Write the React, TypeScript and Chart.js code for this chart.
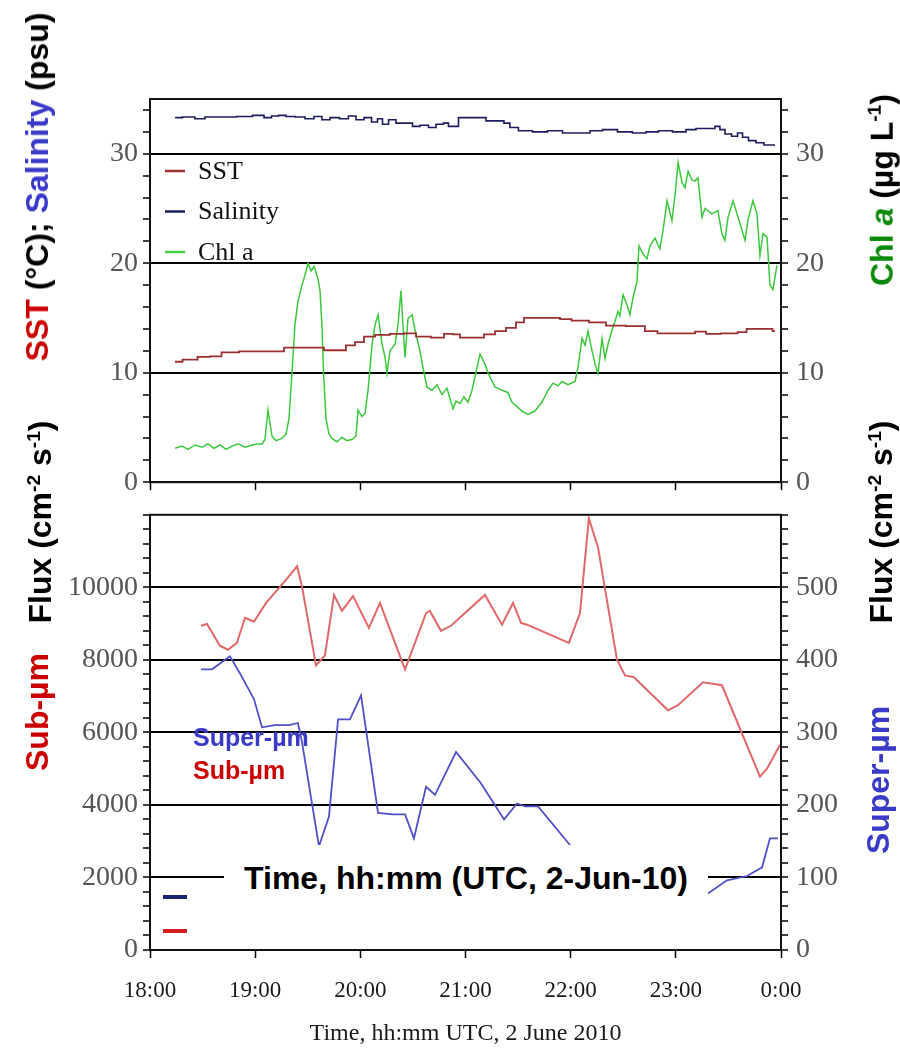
import React, { useEffect, useRef } from 'react';
import { Chart, registerables } from 'chart.js';

Chart.register(...registerables);

// Time is in minutes after 18:00 UTC, 2 June 2010.
const hourLabels = ['18:00', '19:00', '20:00', '21:00', '22:00', '23:00', '0:00'];

// Upper panel: sea-surface salinity (psu)
const salinityTime = [14.3, 22.8, 28.5, 34.2, 44.5, 54.2, 62.8, 67.3, 71.3, 75.3, 79.9, 85.6, 91.3, 95.8, 100.4, 105.0, 111.2, 115.2, 119.8, 124.4, 128.4, 131.2, 134.1, 138.1, 142.6, 148.3, 151.2, 156.9, 160.9, 165.4, 169.4, 171.2, 175.1, 176.9, 182.6, 189.4, 194.0, 199.7, 204.2, 206.5, 213.9, 222.5, 231.1, 239.6, 248.2, 253.9, 262.4, 271.0, 279.5, 286.4, 293.8, 302.4, 309.2, 313.8, 320.6, 324.0, 326.3, 329.8, 333.8, 336.6, 339.5, 343.4, 348.0, 352.6, 356.6];
const salinity = [33.3, 33.35, 33.2, 33.35, 33.35, 33.4, 33.5, 33.3, 33.45, 33.5, 33.4, 33.35, 33.2, 33.4, 33.1, 33.3, 33.2, 33.45, 33.1, 33.3, 32.9, 33.2, 32.7, 33.1, 32.8, 32.8, 32.5, 32.6, 32.4, 32.7, 32.8, 32.5, 32.5, 33.3, 33.3, 33.3, 33.0, 33.0, 32.8, 32.4, 32.1, 32.0, 32.1, 31.9, 31.9, 32.1, 32.2, 32.0, 31.9, 32.0, 32.1, 32.0, 32.2, 32.3, 32.3, 32.5, 32.2, 31.8, 31.6, 31.9, 31.5, 31.2, 31.0, 30.8, 30.8];

// Upper panel: sea-surface temperature (°C)
const sstTime = [14.3, 22.8, 31.4, 37.1, 44.5, 57.1, 74.2, 78.7, 98.1, 100.4, 109.5, 114.1, 119.8, 124.4, 132.4, 141.5, 148.3, 155.2, 165.4, 170.0, 175.7, 178.0, 187.1, 194.0, 199.7, 206.5, 211.1, 215.6, 231.1, 236.8, 244.2, 256.7, 263.6, 279.5, 285.2, 293.8, 308.1, 313.8, 320.6, 330.9, 339.5, 341.2, 353.7, 356.6];
const sst = [11.0, 11.2, 11.45, 11.5, 11.85, 11.95, 11.95, 12.3, 12.3, 12.05, 12.05, 12.5, 12.8, 13.3, 13.45, 13.55, 13.6, 13.3, 13.2, 13.55, 13.5, 13.2, 13.2, 13.5, 13.8, 14.1, 14.6, 15.0, 15.0, 14.9, 14.75, 14.6, 14.3, 14.25, 13.8, 13.6, 13.6, 13.75, 13.55, 13.6, 13.7, 14.0, 14.0, 13.8];

// Upper panel: chlorophyll a (µg/L), right-hand axis
const chlTime = [14.3, 18.3, 21.7, 25.7, 29.7, 33.1, 36.5, 39.9, 43.4, 46.8, 50.2, 54.2, 58.2, 61.6, 63.9, 65.6, 67.3, 69.6, 71.9, 75.3, 77.6, 79.3, 81.0, 82.7, 84.4, 86.7, 88.4, 90.1, 91.9, 93.6, 95.8, 97.0, 98.1, 99.0, 100.4, 102.1, 103.8, 106.7, 109.5, 112.4, 115.2, 117.5, 118.7, 120.9, 122.7, 124.4, 126.7, 128.4, 130.1, 132.4, 134.1, 135.2, 136.9, 139.8, 141.5, 143.2, 144.3, 145.5, 147.2, 149.5, 151.2, 154.0, 155.7, 158.0, 160.9, 163.7, 166.6, 169.4, 171.2, 172.9, 174.6, 176.9, 179.1, 181.4, 183.7, 186.6, 188.3, 191.1, 192.8, 196.8, 200.8, 204.2, 206.5, 209.4, 212.2, 215.6, 219.6, 223.6, 227.1, 229.9, 232.8, 235.0, 238.5, 242.5, 244.2, 246.5, 248.2, 249.9, 252.2, 253.9, 255.6, 257.9, 259.6, 261.3, 263.6, 265.3, 267.0, 268.1, 269.9, 272.1, 273.8, 275.5, 277.8, 279.0, 280.7, 283.5, 285.3, 288.1, 290.9, 292.7, 295.0, 297.8, 299.6, 301.3, 303.5, 305.2, 307.0, 309.2, 310.9, 312.6, 314.9, 316.6, 320.6, 324.0, 326.3, 328.0, 329.8, 332.6, 335.5, 339.5, 341.2, 344.0, 346.3, 348.0, 349.7, 352.0, 353.7, 355.4, 357.7];
const chl = [3.1, 3.3, 3.0, 3.4, 3.2, 3.5, 3.1, 3.4, 3.0, 3.3, 3.5, 3.2, 3.4, 3.5, 3.5, 3.9, 6.6, 4.2, 3.8, 4.0, 4.4, 5.8, 10.0, 14.4, 16.5, 18.0, 18.9, 20.0, 19.3, 19.7, 18.6, 17.5, 14.3, 10.0, 5.8, 4.4, 4.0, 3.7, 4.1, 3.8, 3.9, 4.2, 6.6, 6.0, 6.3, 8.4, 12.6, 14.4, 15.3, 12.6, 11.4, 9.95, 12.0, 12.6, 14.4, 17.5, 14.4, 11.4, 14.95, 15.3, 13.9, 12.0, 10.5, 8.7, 8.4, 8.9, 8.0, 8.6, 7.6, 6.7, 7.4, 7.2, 7.8, 7.3, 8.4, 10.5, 11.7, 10.8, 10.0, 8.7, 8.4, 8.2, 7.3, 6.9, 6.5, 6.2, 6.5, 7.3, 8.4, 9.05, 8.8, 9.2, 8.9, 9.2, 10.5, 13.15, 12.5, 13.8, 12.0, 10.8, 9.95, 13.1, 11.3, 12.6, 13.9, 14.7, 15.6, 15.2, 17.1, 16.2, 15.3, 16.8, 18.3, 21.6, 21.0, 20.4, 21.6, 22.3, 21.3, 23.0, 25.7, 23.9, 26.3, 29.2, 27.4, 26.9, 28.4, 27.6, 27.5, 27.8, 24.2, 25.0, 24.5, 24.8, 22.7, 22.1, 24.2, 25.7, 24.2, 22.1, 24.0, 25.7, 24.5, 20.7, 22.7, 22.4, 18.0, 17.6, 19.8];

// Lower panel: sub-micrometre particle flux (cm-2 s-1), left-hand axis
const subTime = [29.1, 32.5, 39.9, 44.5, 49.6, 54.2, 59.3, 66.2, 77.0, 83.9, 86.7, 94.7, 99.8, 105.0, 109.5, 115.8, 124.9, 131.2, 145.5, 157.5, 159.7, 166.0, 171.7, 191.1, 200.8, 207.1, 211.7, 215.1, 239.0, 245.3, 250.4, 255.6, 266.4, 271.0, 276.1, 295.5, 301.2, 315.5, 326.3, 348.0, 352.0, 359.4];
const subFlux = [8940, 8990, 8390, 8280, 8470, 9160, 9050, 9570, 10170, 10580, 10030, 7850, 8120, 9790, 9350, 9760, 8880, 9570, 7740, 9290, 9350, 8800, 8940, 9790, 8970, 9570, 9020, 8970, 8470, 9290, 11900, 11100, 8010, 7570, 7520, 6610, 6750, 7380, 7300, 4780, 5000, 5650];

// Lower panel: super-micrometre particle flux (cm-2 s-1), right-hand axis
const superTime = [29.1, 35.4, 45.6, 51.9, 59.3, 63.9, 71.3, 79.3, 84.4, 86.7, 96.4, 102.1, 107.3, 114.1, 120.4, 130.1, 138.6, 145.5, 150.6, 157.5, 162.6, 174.6, 188.8, 202.0, 209.4, 213.9, 221.4, 240.2, 280.0, 318.3, 329.2, 340.6, 349.2, 353.7, 358.3];
const superFlux = [387, 387, 405, 379, 346, 307, 310, 310, 313, 287, 143, 184, 318, 318, 351, 189, 187, 187, 154, 225, 214, 273, 230, 180, 202, 198, 198, 143, null, 78, 96, 102, 114, 154, 154];

const keyNames = ['SST', 'Salinity', 'Chl a'];
const keyColors = ['#9a3030', '#1c1c5e', '#4ccc4c'];

const SERIF = '"Liberation Serif", "Times New Roman", serif';
const SANS = '"Liberation Sans", Arial, sans-serif';

const points = (t: number[], v: (number | null)[]) => t.map((x, i) => ({ x, y: v[i] }));
const fixWidth = (w: number) => (scale: any) => { scale.width = w; };
const fixHeight = (h: number) => (scale: any) => { scale.height = h; };

// Box around the plotting area (adds the top edge the axes do not draw)
const framePlugin = {
  id: 'frame',
  afterDraw(chart: any) {
    const { ctx, chartArea: a } = chart;
    ctx.save();
    ctx.strokeStyle = '#111';
    ctx.lineWidth = 2;
    ctx.strokeRect(a.left, a.top, a.right - a.left, a.bottom - a.top);
    ctx.restore();
  },
};

// Series key in the upper-left corner of the upper panel
const keyPlugin = {
  id: 'seriesKey',
  afterDraw(chart: any) {
    const { ctx, chartArea: a } = chart;
    ctx.save();
    ctx.font = `26px ${SERIF}`;
    ctx.textBaseline = 'middle';
    keyNames.forEach((name, i) => {
      const y = a.top + 72 + i * 40.5;
      ctx.strokeStyle = keyColors[i];
      ctx.lineWidth = 2.5;
      ctx.beginPath();
      ctx.moveTo(a.left + 15, y);
      ctx.lineTo(a.left + 35, y);
      ctx.stroke();
      ctx.fillStyle = '#111';
      ctx.fillText(name, a.left + 48, y + 1);
    });
    ctx.restore();
  },
};

// Short key marks in the lower-left corner of the flux panel
const fluxKeyPlugin = {
  id: 'fluxKey',
  afterDraw(chart: any) {
    const { ctx, chartArea: a } = chart;
    ctx.save();
    ctx.lineWidth = 4;
    [['#1a2470', 53], ['#d42020', 19]].forEach(([c, dy]) => {
      ctx.strokeStyle = c as string;
      ctx.beginPath();
      ctx.moveTo(a.left + 13, a.bottom - (dy as number));
      ctx.lineTo(a.left + 37, a.bottom - (dy as number));
      ctx.stroke();
    });
    ctx.restore();
  },
};

const yTickFont = { family: SERIF, size: 28 };
const tickGrid = { tickColor: '#000', tickLength: 7, tickWidth: 1.5 };

function valueAxis(position: 'left' | 'right', max: number, step: number, major: number, width: number, grid: boolean) {
  return {
    type: 'linear',
    position,
    min: 0,
    max,
    afterFit: fixWidth(width),
    ticks: {
      stepSize: step,
      maxTicksLimit: 200,
      includeBounds: false,
      autoSkip: false,
      padding: position === 'left' ? 5 : 8,
      color: '#555',
      font: yTickFont,
      callback: (v: number) => (v % major === 0 && v < max ? String(v) : ''),
    },
    grid: {
      ...tickGrid,
      drawOnChartArea: grid,
      lineWidth: 2,
      color: (c: any) => (c.tick && c.tick.value % major === 0 && c.tick.value > 0 && c.tick.value < max ? '#000' : 'rgba(0,0,0,0)'),
    },
    border: { color: '#111', width: 2 },
  };
}

function timeAxis(height: number, labels: boolean) {
  return {
    type: 'linear',
    min: 0,
    max: 360,
    afterFit: fixHeight(height),
    ticks: {
      stepSize: 60,
      autoSkip: false,
      maxRotation: 0,
      display: labels,
      padding: 19,
      color: '#1a1a1a',
      font: { family: SERIF, size: 23 },
      callback: (v: number) => hourLabels[Math.round(v / 60)],
    },
    grid: { drawOnChartArea: false, tickColor: '#000', tickLength: 8, tickWidth: 1.5 },
    border: { color: '#111', width: 2 },
    title: labels
      ? { display: true, text: 'Time, hh:mm UTC, 2 June 2010', color: '#1a1a1a', font: { family: SERIF, size: 24 }, padding: { top: 0, bottom: 6 } }
      : { display: false },
  };
}

const rotated = (cx: number, cy: number): React.CSSProperties => ({
  position: 'absolute',
  left: cx,
  top: cy,
  transform: 'translate(-50%, -50%) rotate(-90deg)',
  whiteSpace: 'nowrap',
  font: `bold 32px ${SANS}`,
  lineHeight: '36px',
  color: '#000',
});

const sup: React.CSSProperties = { fontSize: '0.6em', verticalAlign: '0.6em' };
const RED = '#cc0000';
const BLUE = '#3a3ac8';
const GREEN = '#0a8a0a';

export default function App() {
  const topRef = useRef<HTMLCanvasElement>(null);
  const botRef = useRef<HTMLCanvasElement>(null);

  useEffect(() => {
    const common = {
      responsive: false,
      animation: false as const,
      events: [],
      plugins: { legend: { display: false }, tooltip: { enabled: false } },
    };

    const top = new Chart(topRef.current!, {
      type: 'line',
      data: {
        datasets: [
          { label: 'Salinity', data: points(salinityTime, salinity), borderColor: keyColors[1], borderWidth: 1.6, pointRadius: 0, stepped: 'middle', yAxisID: 'y' },
          { label: 'SST', data: points(sstTime, sst), borderColor: keyColors[0], borderWidth: 1.8, pointRadius: 0, stepped: 'middle', yAxisID: 'y' },
          { label: 'Chl a', data: points(chlTime, chl), borderColor: '#3cc83c', borderWidth: 1.5, pointRadius: 0, yAxisID: 'y2' },
        ],
      },
      options: {
        ...common,
        layout: { padding: { top: 99, left: 0, right: 0, bottom: 0 } },
        scales: {
          x: timeAxis(18, false),
          y: valueAxis('left', 35, 2, 10, 150, true),
          y2: valueAxis('right', 35, 2, 10, 119, false),
        },
      } as any,
      plugins: [framePlugin, keyPlugin],
    });

    const bottom = new Chart(botRef.current!, {
      type: 'line',
      data: {
        datasets: [
          { label: 'Sub-µm', data: points(subTime, subFlux), borderColor: '#e06868', borderWidth: 2, pointRadius: 0, yAxisID: 'y' },
          { label: 'Super-µm', data: points(superTime, superFlux), borderColor: '#5050c8', borderWidth: 1.8, pointRadius: 0, yAxisID: 'y2', spanGaps: false },
        ],
      },
      options: {
        ...common,
        layout: { padding: { top: 21, left: 0, right: 0, bottom: 0 } },
        scales: {
          x: timeAxis(104, true),
          y: valueAxis('left', 12000, 400, 2000, 150, true),
          y2: valueAxis('right', 600, 20, 100, 119, false),
        },
      } as any,
      plugins: [framePlugin, fluxKeyPlugin],
    });

    return () => {
      top.destroy();
      bottom.destroy();
    };
  }, []);

  const fluxUnit = (
    <>
      Flux (cm<span style={sup}>-2</span> s<span style={sup}>-1</span>)
    </>
  );

  return (
    <div style={{ position: 'absolute', left: 0, top: 0, width: 900, height: 1054, background: '#fff', overflow: 'hidden' }}>
      <canvas ref={topRef} width={900} height={507} style={{ position: 'absolute', left: 0, top: 0 }} />
      <canvas ref={botRef} width={900} height={564} style={{ position: 'absolute', left: 0, top: 490 }} />

      <div style={rotated(37, 187)}>
        <span style={{ color: RED }}>SST</span> (°C); <span style={{ color: BLUE }}>Salinity</span> (psu)
      </div>
      <div style={{ ...rotated(37, 712), color: RED }}>Sub-µm</div>
      <div style={rotated(37, 522)}>{fluxUnit}</div>

      <div style={rotated(878, 190)}>
        <span style={{ color: GREEN }}>Chl <i>a</i></span> (µg L<span style={sup}>-1</span>)
      </div>
      <div style={{ ...rotated(878, 780), color: BLUE }}>Super-µm</div>
      <div style={rotated(878, 522)}>{fluxUnit}</div>

      <div style={{ position: 'absolute', left: 193, top: 722, font: `bold 25px ${SANS}`, lineHeight: '30px', color: BLUE }}>Super-µm</div>
      <div style={{ position: 'absolute', left: 193, top: 755, font: `bold 25px ${SANS}`, lineHeight: '30px', color: RED }}>Sub-µm</div>

      <div
        style={{
          position: 'absolute',
          left: 224,
          top: 845,
          width: 484,
          height: 66,
          background: '#fff',
          font: `bold 32px ${SANS}`,
          lineHeight: '66px',
          textAlign: 'center',
          color: '#000',
          whiteSpace: 'nowrap',
        }}
      >
        Time, hh:mm (UTC, 2-Jun-10)
      </div>
    </div>
  );
}
